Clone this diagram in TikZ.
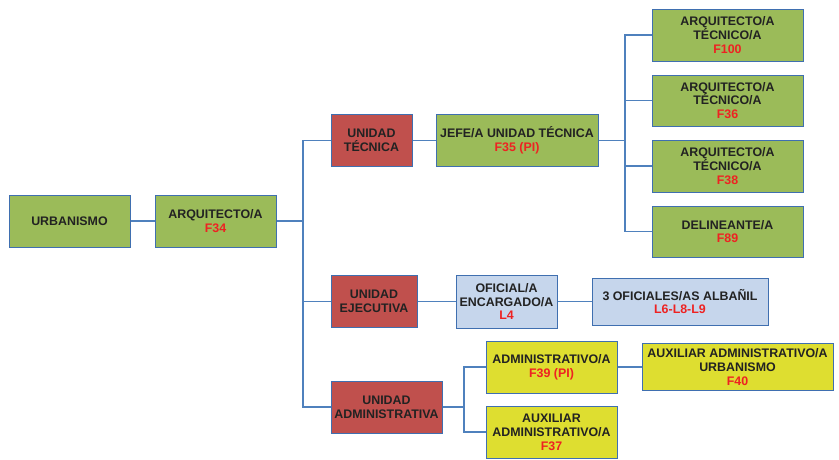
\documentclass[tikz,border=0pt]{standalone}
\usepackage{fontspec}
\setmainfont{Liberation Sans}
\definecolor{bxgreen}{HTML}{9BBB59}
\definecolor{bxred}{HTML}{C0504D}
\definecolor{bxblue}{HTML}{C6D6EC}
\definecolor{bxyellow}{HTML}{DEDE30}
\definecolor{bxborder}{HTML}{3F6FB0}
\definecolor{lnblue}{HTML}{4F81BD}
\definecolor{txdark}{HTML}{222222}
\definecolor{fred}{HTML}{EE2222}
\newcommand{\fc}[1]{\textcolor{fred}{#1}}
\begin{document}
\begin{tikzpicture}[x=1pt,y=-1pt,
  box/.style={draw=bxborder,line width=1pt,inner sep=0pt,align=center,
    text=txdark,font=\fontsize{12.4}{13.8}\selectfont\bfseries},
  gbox/.style={box,fill=bxgreen},
  rbox/.style={box,fill=bxred},
  bbox/.style={box,fill=bxblue},
  ybox/.style={box,fill=bxyellow},
  conn/.style={draw=lnblue,line width=1.2pt}]
\useasboundingbox (0,0) rectangle (839,459);
% level 0-1
\node[gbox,minimum width=121pt,minimum height=52pt] (urb) at (69.5,221) {URBANISMO};
\node[gbox,minimum width=121pt,minimum height=52pt] (arq) at (215.5,221) {ARQUITECTO/A\\\fc{F34}};
% units
\node[rbox,minimum width=81pt,minimum height=52pt] (ut) at (371.5,140.5) {UNIDAD\\TÉCNICA};
\node[rbox,minimum width=86pt,minimum height=52pt] (ue) at (374,301.5) {UNIDAD\\EJECUTIVA};
\node[rbox,minimum width=111pt,minimum height=52pt] (ua) at (386.5,407) {UNIDAD\\ADMINISTRATIVA};
% technical
\node[gbox,minimum width=162pt,minimum height=52pt] (jefe) at (517,140.5) {JEFE/A UNIDAD TÉCNICA\\\fc{F35 (PI)}};
\node[gbox,minimum width=151pt,minimum height=52pt] (r1) at (727.5,35) {ARQUITECTO/A\\TÉCNICO/A\\\fc{F100}};
\node[gbox,minimum width=151pt,minimum height=51pt] (r2) at (727.5,100.5) {ARQUITECTO/A\\TÉCNICO/A\\\fc{F36}};
\node[gbox,minimum width=151pt,minimum height=52pt] (r3) at (727.5,166) {ARQUITECTO/A\\TÉCNICO/A\\\fc{F38}};
\node[gbox,minimum width=151pt,minimum height=51pt] (r4) at (727.5,231.5) {DELINEANTE/A\\\fc{F89}};
% executive
\node[bbox,minimum width=101pt,minimum height=53pt] (ofi) at (506.5,301.5) {OFICIAL/A\\ENCARGADO/A\\\fc{L4}};
\node[bbox,minimum width=176pt,minimum height=47pt] (tres) at (680,301.5) {3 OFICIALES/AS ALBAÑIL\\\fc{L6-L8-L9}};
% administrative
\node[ybox,minimum width=131pt,minimum height=52pt] (adm) at (551.5,367) {ADMINISTRATIVO/A\\\fc{F39 (PI)}};
\node[ybox,minimum width=131pt,minimum height=52pt] (aux) at (551.5,432) {AUXILIAR\\ADMINISTRATIVO/A\\\fc{F37}};
\node[ybox,minimum width=191pt,minimum height=47pt] (auxu) at (737.5,367) {AUXILIAR ADMINISTRATIVO/A\\URBANISMO\\\fc{F40}};
% trunks
\coordinate (tA) at (303,221);
\coordinate (tB) at (625,140.5);
\coordinate (tC) at (464,407);
% connectors
\draw[conn] (urb.east) -- (arq.west);
\draw[conn] (arq.east) -- (tA);
\draw[conn] (ut.west) -| (tA);
\draw[conn] (ua.west) -| (tA);
\draw[conn] (ue.west) -- (ue.west -| tA);
\draw[conn] (ut.east) -- (jefe.west);
\draw[conn] (jefe.east) -- (tB);
\draw[conn] (r1.west) -| (tB);
\draw[conn] (r4.west) -| (tB);
\draw[conn] (r2.west) -- (r2.west -| tB);
\draw[conn] (r3.west) -- (r3.west -| tB);
\draw[conn] (ue.east) -- (ofi.west);
\draw[conn] (ofi.east) -- (tres.west);
\draw[conn] (ua.east) -- (tC);
\draw[conn] (adm.west) -| (tC);
\draw[conn] (aux.west) -| (tC);
\draw[conn] (adm.east) -- (auxu.west);
\end{tikzpicture}
\end{document}
